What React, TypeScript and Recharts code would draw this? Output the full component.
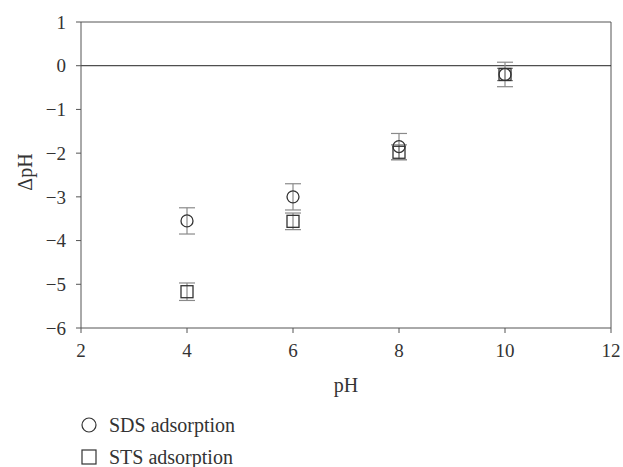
import React from "react";
import {
  ErrorBar,
  ReferenceLine,
  Scatter,
  ScatterChart,
  XAxis,
  YAxis,
} from "recharts";

const phValues = [4, 6, 8, 10];
const sdsDelta = [-3.55, -3.0, -1.85, -0.2];
const sdsError = [0.3, 0.3, 0.3, 0.28];
const stsDelta = [-5.17, -3.56, -1.98, -0.2];
const stsError = [0.2, 0.19, 0.17, 0.14];
const xTicks = [2, 4, 6, 8, 10, 12];
const yTicks = [1, 0, -1, -2, -3, -4, -5, -6];
const seriesNames = ["SDS adsorption", "STS adsorption"];

const FONT = '"Liberation Serif", "Times New Roman", "DejaVu Serif", serif';
const AXIS = "#555";
const MARK = "#333";
const BAR = "#8a8a8a";

const sdsData = phValues.map((ph, i) => ({ ph, delta: sdsDelta[i], err: sdsError[i] }));
const stsData = phValues.map((ph, i) => ({ ph, delta: stsDelta[i], err: stsError[i] }));

function fmt(v: number): string {
  return v < 0 ? `\u2212${Math.abs(v)}` : String(v);
}

function HollowCircle(props: any) {
  const { cx, cy } = props;
  return <circle cx={cx} cy={cy} r={6} fill="none" stroke={MARK} strokeWidth={1.3} />;
}

function HollowSquare(props: any) {
  const { cx, cy } = props;
  return (
    <rect x={cx - 6} y={cy - 6} width={12} height={12} fill="none" stroke={MARK} strokeWidth={1.3} />
  );
}

function LegendBox() {
  return (
    <div
      style={{
        position: "absolute",
        left: 81,
        top: 409,
        fontFamily: FONT,
        fontSize: 20,
        color: "#333",
      }}
    >
      {seriesNames.map((name, i) => (
        <div key={name} style={{ display: "flex", alignItems: "center", height: 32 }}>
          <svg width={16} height={16} style={{ marginRight: 12 }}>
            {i === 0 ? (
              <circle cx={8} cy={8} r={7} fill="none" stroke={MARK} strokeWidth={1.2} />
            ) : (
              <rect x={1} y={1} width={14} height={14} fill="none" stroke={MARK} strokeWidth={1.2} />
            )}
          </svg>
          <span>{name}</span>
        </div>
      ))}
    </div>
  );
}

export default function App() {
  const tick = { fontSize: 19, fill: "#333", fontFamily: FONT };
  return (
    <div style={{ position: "absolute", left: 0, top: 0, width: 623, height: 467, background: "#fff" }}>
      <ScatterChart
        width={623}
        height={467}
        margin={{ top: 22, right: 12, left: 41, bottom: 109 }}
        style={{ fontFamily: FONT }}
      >
        <XAxis
          type="number"
          dataKey="ph"
          domain={[2, 12]}
          ticks={xTicks}
          tick={tick}
          tickSize={5}
          tickMargin={11}
          stroke={AXIS}
          height={30}
          label={({ viewBox }: any) => (
            <text
              x={viewBox.x + viewBox.width / 2}
              y={392}
              textAnchor="middle"
              fontSize={20}
              fontFamily={FONT}
              fill="#333"
            >
              pH
            </text>
          )}
        />
        <YAxis
          type="number"
          dataKey="delta"
          domain={[-6, 1]}
          ticks={yTicks}
          tick={tick}
          tickFormatter={fmt}
          tickSize={5}
          tickMargin={10}
          stroke={AXIS}
          width={40}
          label={({ viewBox }: any) => (
            <text
              x={25}
              y={viewBox.y + viewBox.height / 2 - 3}
              textAnchor="middle"
              dominantBaseline="central"
              fontSize={20}
              fontFamily={FONT}
              fill="#333"
              transform={`rotate(-90 25 ${viewBox.y + viewBox.height / 2 - 3})`}
            >
              ΔpH
            </text>
          )}
        />
        <ReferenceLine y={1} stroke={AXIS} strokeWidth={1} />
        <ReferenceLine x={12} stroke={AXIS} strokeWidth={1} />
        <ReferenceLine y={0} stroke="#222" strokeWidth={1} />
        <Scatter name={seriesNames[0]} data={sdsData} shape={HollowCircle} isAnimationActive={false}>
          <ErrorBar dataKey="err" direction="y" width={8} stroke={BAR} strokeWidth={1.2} />
        </Scatter>
        <Scatter name={seriesNames[1]} data={stsData} shape={HollowSquare} isAnimationActive={false}>
          <ErrorBar dataKey="err" direction="y" width={8} stroke={BAR} strokeWidth={1.2} />
        </Scatter>
      </ScatterChart>
      <LegendBox />
    </div>
  );
}
